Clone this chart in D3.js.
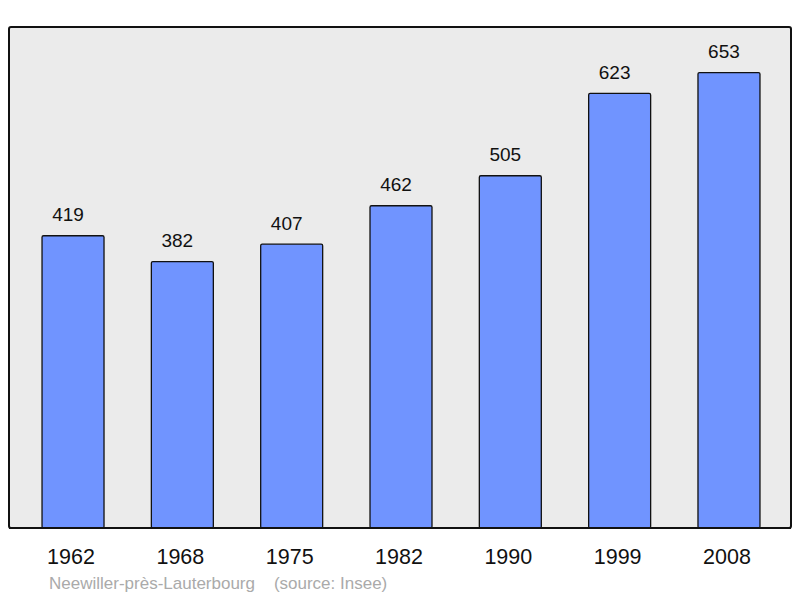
<!DOCTYPE html>
<html>
<head>
<meta charset="utf-8">
<script src="https://cdn.jsdelivr.net/npm/d3@7"></script>
<style>
  body { margin: 0; background: #fff; }
  text { font-family: "Liberation Sans", Arial, sans-serif; }
</style>
</head>
<body>
<div id="chart"></div>
<script>
const years = ['1962', '1968', '1975', '1982', '1990', '1999', '2008']
const population = [419, 382, 407, 462, 505, 623, 653]
const commune = 'Neewiller-près-Lauterbourg'
const source = '(source: Insee)'

function draw(el) {
    let dimensions = {
        width: 800,
        height: 598,
        left: 9,
        right: 791,
        top: 27,
        bottom: 528,
    }

    const svg = d3.select(el)
        .append('svg')
        .attr('width', dimensions.width)
        .attr('height', dimensions.height)

    const xScale = d3.scaleBand()
        .domain(years)
        .range([dimensions.left + 1, dimensions.right + 1])
        .paddingInner(0.433)
        .paddingOuter(0.293)

    const yScale = d3.scaleLinear()
        .domain([0, d3.max(population) * 1.1])
        .range([dimensions.bottom, dimensions.top])

    // panel
    svg.append('rect')
        .attr('x', dimensions.left)
        .attr('y', dimensions.top)
        .attr('width', dimensions.right - dimensions.left)
        .attr('height', dimensions.bottom - dimensions.top)
        .attr('rx', 2)
        .attr('fill', '#ebebeb')
        .attr('stroke', '#111')
        .attr('stroke-width', 2)

    const data = years.map((y, i) => ({ year: y, value: population[i] }))

    svg.append('g')
        .selectAll('rect')
        .data(data)
        .join('rect')
        .attr('x', d => xScale(d.year))
        .attr('y', d => yScale(d.value))
        .attr('width', xScale.bandwidth())
        .attr('height', d => dimensions.bottom - yScale(d.value))
        .attr('rx', 1.5)
        .attr('fill', '#7094ff')
        .attr('stroke', '#111')
        .attr('stroke-width', 1.3)

    // redraw panel bottom border on top of bars
    svg.append('line')
        .attr('x1', dimensions.left)
        .attr('x2', dimensions.right)
        .attr('y1', dimensions.bottom)
        .attr('y2', dimensions.bottom)
        .attr('stroke', '#111')
        .attr('stroke-width', 2)

    svg.append('g')
        .selectAll('text')
        .data(data)
        .join('text')
        .attr('x', d => xScale(d.year) + xScale.bandwidth() / 2 - 5)
        .attr('y', d => yScale(d.value) - 14.5)
        .attr('text-anchor', 'middle')
        .attr('font-size', 19)
        .attr('fill', '#111')
        .text(d => d.value)

    const xAxis = d3.axisBottom(xScale).tickSize(0).tickPadding(0)
    const axisG = svg.append('g')
        .attr('transform', `translate(-2, ${dimensions.bottom})`)
        .call(xAxis)
    axisG.select('.domain').remove()
    axisG.selectAll('text')
        .attr('dy', null)
        .attr('y', 36)
        .attr('font-size', 21.5)
        .attr('font-family', '"Liberation Sans", Arial, sans-serif')
        .attr('fill', '#111')

    svg.append('text')
        .attr('x', 49)
        .attr('y', 589)
        .attr('font-size', 17)
        .attr('fill', '#aaa')
        .attr('xml:space', 'preserve')
        .text(commune + '    ' + source)
}

draw('#chart')
</script>
</body>
</html>
